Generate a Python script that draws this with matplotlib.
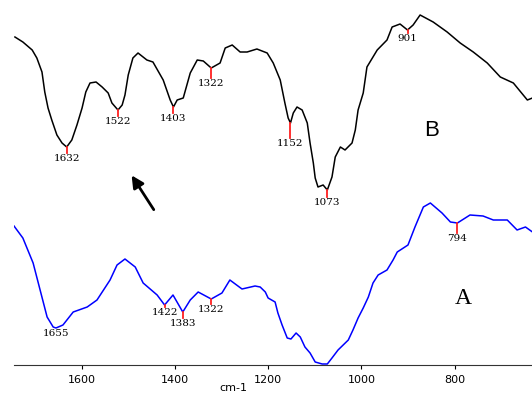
import matplotlib
matplotlib.use("Agg")
import matplotlib.pyplot as plt
import numpy as np

# ── Spectrum B (black, upper trace) ───────────────────────────────────────────
wn_b = [1743, 1726, 1706, 1696, 1685, 1679, 1672, 1664, 1653, 1642, 1632, 1621,
        1610, 1599, 1591, 1582, 1569, 1556, 1543, 1535, 1522, 1513, 1507, 1500,
        1490, 1479, 1460, 1447, 1425, 1410, 1403, 1395, 1382, 1367, 1352, 1339,
        1322, 1303, 1292, 1277, 1260, 1245, 1224, 1202, 1189, 1174, 1164, 1157,
        1152, 1146, 1138, 1127, 1116, 1110, 1103, 1099, 1093, 1082, 1073, 1063,
        1056, 1045, 1035, 1020, 1013, 1007, 996, 988, 966, 945, 934, 917, 901,
        889, 874, 846, 816, 788, 760, 730, 702, 674, 644, 633]
tr_b = [328, 323, 315, 307, 293, 273, 257, 245, 230, 222, 218, 225,
        240, 257, 273, 282, 283, 278, 272, 262, 255, 260, 270, 290,
        307, 312, 305, 303, 285, 265, 258, 265, 267, 292, 305, 304,
        297, 302, 317, 320, 313, 313, 316, 312, 302, 285, 262, 247,
        242, 252, 258, 255, 242, 222, 202, 187, 178, 180, 175, 188,
        208, 218, 215, 222, 235, 255, 272, 298, 315, 325, 338, 341, 335,
        340, 350, 343, 333, 322, 313, 302, 288, 282, 265, 267]

# ── Spectrum A (blue, lower trace) ────────────────────────────────────────────
wn_a = [1745, 1726, 1704, 1689, 1674, 1661, 1655, 1640, 1618, 1588, 1567, 1539,
        1524, 1507, 1485, 1468, 1438, 1422, 1404, 1383, 1367, 1350, 1322, 1299,
        1282, 1256, 1228, 1217, 1206, 1200, 1185, 1179, 1170, 1159, 1151, 1140,
        1131, 1121, 1110, 1099, 1084, 1073, 1063, 1050, 1028, 1018, 1007, 996,
        985, 975, 964, 945, 932, 923, 900, 885, 867, 852, 827, 809, 794, 767,
        739, 717, 687, 666, 648, 633]
tr_a = [139, 127, 102, 75, 48, 38, 37, 40, 53, 58, 65, 85,
        100, 106, 98, 82, 70, 60, 70, 53, 65, 73, 66, 72,
        85, 76, 79, 78, 73, 67, 63, 52, 40, 27, 26, 32,
        28, 18, 12, 3, 1, 1, 7, 15, 25, 35, 47, 57,
        68, 82, 90, 95, 105, 113, 120, 138, 158, 162, 152, 143, 142, 150,
        149, 145, 145, 135, 138, 133]

# peak positions and red marker lengths
peaks_b = [1632, 1522, 1403, 1322, 1152, 1073, 901]
peaks_a = [1655, 1422, 1383, 1322, 794]
tick_len_b = [6, 6, 6, 10, 15, 7, 3]
tick_len_a = [0, 2, 6, 5, 10]

fig = plt.figure(figsize=(5.32, 3.94), dpi=100)
ax = fig.add_axes([14 / 532, 29 / 394, 518 / 532, 365 / 394])

ax.plot(wn_b, tr_b, color="black", lw=1.1)
ax.plot(wn_a, tr_a, color="#0000ff", lw=1.1)


def label_peaks(wn, tr, peaks, lens):
    for p, L in zip(peaks, lens):
        y0 = np.interp(p, wn[::-1], tr[::-1])
        if L > 0:
            ax.plot([p, p], [y0, y0 - L], color="#ff2020", lw=1.3)
        ax.text(p, y0 - L - 1, str(p), ha="center", va="top",
                fontsize=7.5, family="DejaVu Serif", color="black")


label_peaks(wn_b, tr_b, peaks_b, tick_len_b)
label_peaks(wn_a, tr_a, peaks_a, tick_len_a)

ax.text(850, 235, "B", fontsize=16, family="Liberation Sans",
        ha="center", va="center")
ax.text(782, 67, "A", fontsize=17, family="Liberation Serif",
        ha="center", va="center")

ax.annotate("", xy=(1496, 192), xytext=(1442, 153),
            arrowprops=dict(arrowstyle="-|>", color="black", lw=2,
                            mutation_scale=18))

ax.set_xlim(1745, 634)
ax.set_ylim(0, 365)
ax.set_xticks([1600, 1400, 1200, 1000, 800])
ax.tick_params(axis="x", direction="out", length=3, labelsize=8, pad=4)
ax.set_yticks([])
for s in ["top", "right", "left"]:
    ax.spines[s].set_visible(False)
ax.spines["bottom"].set_color("#333333")

fig.text(233 / 532, 1 / 394, "cm-1", ha="center", va="bottom", fontsize=8)

plt.savefig("out.png", dpi=100)
